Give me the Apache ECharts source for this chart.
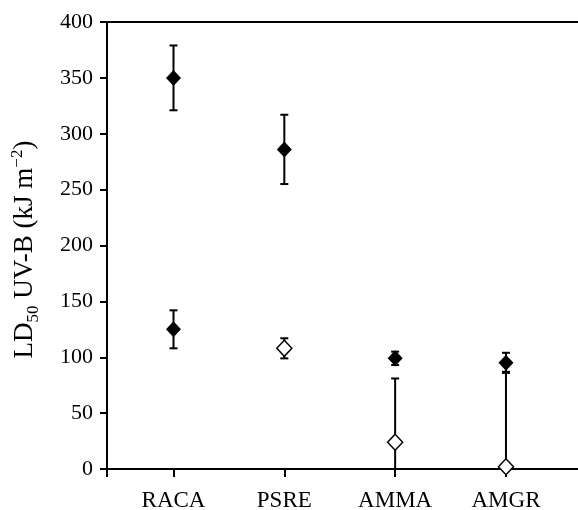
<!DOCTYPE html>
<html>
<head>
<meta charset="utf-8">
<script src="https://cdn.jsdelivr.net/npm/echarts@6/dist/echarts.min.js"></script>
<style>
    html, body { margin: 0; padding: 0; background: #fff; }
    #chart { width: 578px; height: 510px; }
</style>
</head>
<body>
<div id="chart"></div>
<script>
// 数据
var categories = ['RACA', 'PSRE', 'AMMA', 'AMGR'];
var catPos = [1, 2, 3, 4];
var upperMean = [350, 286, 99, 95];
var upperErr = [29, 31, 6, 9];
var lowerMean = [125, 108, 24, 2];
var lowerErr = [17, 9, 57, 85];
var lowerFilled = [true, false, false, false];

!function () {
    var font = '"Liberation Serif", "Times New Roman", serif';
    var myChart = echarts.init(document.getElementById('chart'));

    // 误差线
    function errorBar(params, api) {
        var x = api.value(0);
        var lo = api.coord([x, api.value(1)]);
        var hi = api.coord([x, api.value(2)]);
        var w = 4;
        var style = { stroke: '#000', lineWidth: 2 };
        return {
            type: 'group',
            children: [
                { type: 'line', shape: { x1: lo[0], y1: lo[1], x2: hi[0], y2: hi[1] }, style: style },
                { type: 'line', shape: { x1: hi[0] - w, y1: hi[1], x2: hi[0] + w, y2: hi[1] }, style: style },
                { type: 'line', shape: { x1: lo[0] - w, y1: lo[1], x2: lo[0] + w, y2: lo[1] }, style: style }
            ]
        };
    }

    function errData(mean, err) {
        return catPos.map(function (x, i) {
            return [x, Math.max(0, mean[i] - err[i]), mean[i] + err[i]];
        });
    }

    var option = {
        animation: false,
        grid: {
            left: 107,
            right: 0,
            top: 22,
            bottom: 41,
            outerBoundsMode: 'none'
        },
        xAxis: [{
            type: 'value',
            min: 0.4,
            max: 4.65,
            splitLine: { show: false },
            axisLine: { lineStyle: { color: '#000', width: 2 } },
            axisTick: {
                customValues: [0.4].concat(catPos),
                length: 8,
                lineStyle: { color: '#000', width: 2 }
            },
            axisLabel: {
                customValues: catPos,
                formatter: function (v) { return categories[catPos.indexOf(v)]; },
                color: '#000',
                fontFamily: font,
                fontSize: 23,
                margin: 20
            }
        }, {
            type: 'value',
            position: 'top',
            min: 0.4,
            max: 4.65,
            splitLine: { show: false },
            axisLine: { lineStyle: { color: '#000', width: 2 } },
            axisTick: { show: false },
            axisLabel: { show: false }
        }],
        yAxis: {
            type: 'value',
            min: 0,
            max: 400,
            interval: 50,
            splitLine: { show: false },
            axisLine: { show: true, lineStyle: { color: '#000', width: 2 } },
            axisTick: { show: true, length: 7, lineStyle: { color: '#000', width: 2 } },
            axisLabel: { color: '#000', fontFamily: font, fontSize: 22, margin: 14 },
            name: '{m|LD}{sub|50}{m| UV-B (kJ m}{sup|\u22122}{m|)}',
            nameLocation: 'middle',
            nameRotate: 90,
            nameGap: 69,
            nameTextStyle: {
                color: '#000',
                fontFamily: font,
                fontSize: 27,
                padding: [0, 8, 0, 0],
                rich: {
                    m: { fontFamily: font, fontSize: 27, lineHeight: 27, color: '#000' },
                    sub: { fontFamily: font, fontSize: 17, lineHeight: 17, padding: [19, 0, 0, 0], color: '#000' },
                    sup: { fontFamily: font, fontSize: 17, lineHeight: 17, padding: [0, 0, 14, 0], color: '#000' }
                }
            }
        },
        series: [{
            type: 'custom',
            renderItem: errorBar,
            data: errData(upperMean, upperErr),
            z: 2
        }, {
            type: 'custom',
            renderItem: errorBar,
            data: errData(lowerMean, lowerErr),
            z: 2
        }, {
            type: 'scatter',
            symbol: 'diamond',
            symbolSize: [15, 16],
            itemStyle: { color: '#000', opacity: 1 },
            data: catPos.map(function (x, i) { return [x, upperMean[i]]; }),
            z: 3
        }, {
            type: 'scatter',
            symbol: 'diamond',
            symbolSize: [15, 16],
            data: catPos.map(function (x, i) {
                return {
                    value: [x, lowerMean[i]],
                    itemStyle: lowerFilled[i]
                        ? { color: '#000', opacity: 1 }
                        : { color: '#fff', borderColor: '#000', borderWidth: 1.5, opacity: 1 }
                };
            }),
            z: 3
        }]
    };
    myChart.setOption(option);
}()
</script>
</body>
</html>
